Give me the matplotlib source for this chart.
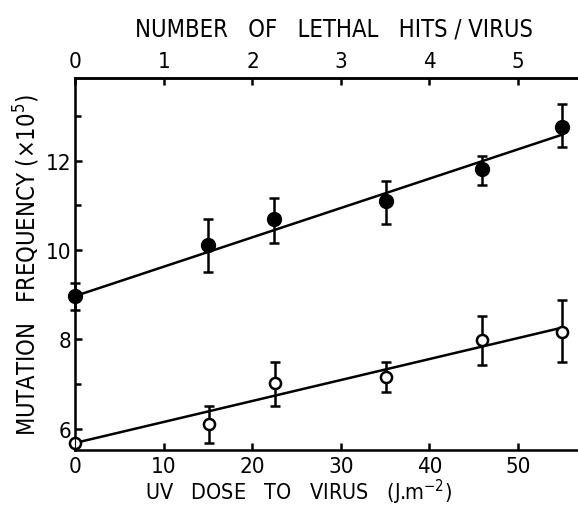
import matplotlib
matplotlib.use('Agg')
from matplotlib import pyplot as plt
import numpy as np

plt.rcParams['font.family'] = ['DejaVu Sans']
plt.rcParams['font.stretch'] = 'condensed'

# UV dose (J/m2) and mutation frequency (x10^5)
dose_filled = [0, 15.0, 22.4, 35.1, 45.9, 55.0]
freq_filled = [8.97, 10.11, 10.69, 11.10, 11.81, 12.76]
err_filled_up = [0.29, 0.59, 0.47, 0.45, 0.29, 0.50]
err_filled_dn = [0.32, 0.61, 0.54, 0.52, 0.35, 0.46]

dose_open = [0, 15.1, 22.5, 35.1, 46.0, 55.0]
freq_open = [5.68, 6.11, 7.03, 7.15, 7.98, 8.17]
err_open_up = [0.0, 0.39, 0.45, 0.35, 0.54, 0.70]
err_open_dn = [0.0, 0.44, 0.53, 0.34, 0.56, 0.69]

# fitted lines, ends
fit_dose = [0, 55.0]
fit_filled = [8.97, 12.58]
fit_open = [5.68, 8.26]

dose_ticks = [0, 10, 20, 30, 40, 50]
hit_ticks = [0, 1, 2, 3, 4, 5]
freq_ticks = [6, 8, 10, 12]

fig = plt.figure(figsize=(5.78, 5.06), dpi=100)
ax = fig.add_axes([0.1306, 0.1087, 0.8694, 0.7352])

lw = 1.8
ax.plot(fit_dose, fit_filled, color='black', lw=lw, zorder=2)
ax.plot(fit_dose, fit_open, color='black', lw=lw, zorder=2)

ax.errorbar(dose_filled, freq_filled, yerr=[err_filled_dn, err_filled_up],
            fmt='o', color='black', ms=10, elinewidth=lw, capsize=3.5,
            capthick=lw, clip_on=False, zorder=3)
ax.errorbar(dose_open, freq_open, yerr=[err_open_dn, err_open_up],
            fmt='o', color='black', mfc='white', mec='black', mew=1.8, ms=8,
            elinewidth=lw, capsize=3.5, capthick=lw, clip_on=False, zorder=3)

ax.set_xlim(0, 56.8)
ax.set_ylim(5.52, 13.85)
ax.set_xticks(dose_ticks)
ax.set_yticks(freq_ticks)
ax.set_yticks([7, 9, 11, 13], minor=True)

for side in ['left', 'bottom', 'top']:
    ax.spines[side].set_linewidth(lw)
ax.spines['right'].set_visible(False)

ax.tick_params(axis='both', which='major', direction='in', length=5, width=lw,
               labelsize=16)
ax.tick_params(axis='y', which='minor', direction='in', length=4, width=lw)
ax.tick_params(axis='x', pad=4)
ax.tick_params(axis='y', pad=3)

# axis titles placed by hand, they sit off-centre in the original
ax.text(0.443, -0.1325, r'UV   DOSE   TO   VIRUS   (J.m$^{-2}$)', fontsize=15.5,
        transform=ax.transAxes, ha='center', va='baseline')
ax.set_ylabel(r'MUTATION   FREQUENCY (×10$^{5}$)', fontsize=17, labelpad=3)

ax2 = ax.twiny()
ax2.set_xlim(ax.get_xlim()[0] / 10, ax.get_xlim()[1] / 10)
ax2.set_xticks(hit_ticks)
ax2.spines['right'].set_visible(False)
ax2.spines['top'].set_linewidth(lw)
ax2.tick_params(axis='x', direction='in', length=5, width=lw, labelsize=16, pad=5)
ax.text(0.514, 1.132, 'NUMBER   OF   LETHAL   HITS / VIRUS', fontsize=17,
        transform=ax.transAxes, ha='center', va='center')

fig.savefig('out.png', dpi=100)
